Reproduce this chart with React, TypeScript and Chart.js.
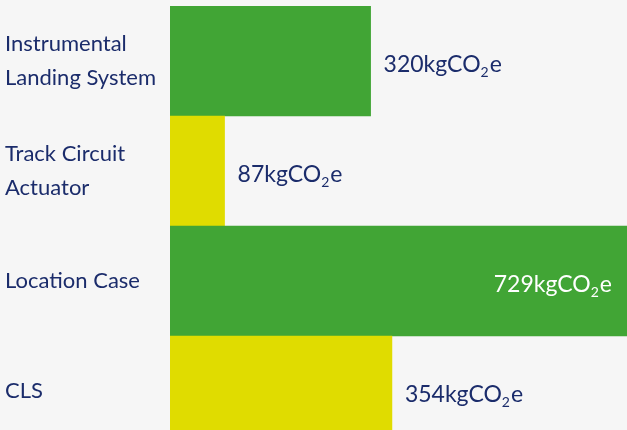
import React, { useEffect, useRef } from "react";
import { Chart, registerables } from "chart.js";

Chart.register(...registerables);

const categories: string[][] = [
  ["Instrumental", "Landing System"],
  ["Track Circuit", "Actuator"],
  ["Location Case"],
  ["CLS"],
];
const values: number[] = [320, 87, 729, 354];
const unitMain = "kgCO";
const unitSub = "2";
const unitTail = "e";

const GREEN = "#41a535";
const YELLOW = "#e0dc00";
const NAVY = "#1b2c6b";
const BG = "#f6f6f6";
const barColors = [GREEN, YELLOW, GREEN, YELLOW];
const FONT = "Lato";

const valueLabels = {
  id: "valueLabels",
  afterDatasetsDraw(chart: any) {
    const ctx = chart.ctx as CanvasRenderingContext2D;
    const meta = chart.getDatasetMeta(0);
    meta.data.forEach((bar: any, i: number) => {
      const v = values[i];
      const main = `${v}${unitMain}`;
      ctx.save();
      ctx.textBaseline = "alphabetic";
      ctx.textAlign = "left";
      const bigFont = `23px ${FONT}`;
      const smallFont = `14px ${FONT}`;
      ctx.font = bigFont;
      const wMain = ctx.measureText(main).width;
      const wTail = ctx.measureText(unitTail).width;
      ctx.font = smallFont;
      const wSub = ctx.measureText(unitSub).width + 1;
      const total = wMain + wSub + wTail;
      const inside = bar.x + 14 + total > chart.chartArea.right;
      let x = inside ? bar.x - 15 - total : bar.x + 13;
      const y = bar.y + 11;
      ctx.fillStyle = inside ? "#ffffff" : NAVY;
      ctx.font = bigFont;
      ctx.fillText(main, x, y);
      x += wMain;
      ctx.font = smallFont;
      ctx.fillText(unitSub, x, y + 5);
      x += wSub;
      ctx.font = bigFont;
      ctx.fillText(unitTail, x, y);
      ctx.restore();
    });
  },
};

export default function App() {
  const ref = useRef<HTMLCanvasElement | null>(null);
  useEffect(() => {
    document.body.style.margin = "0";
    document.body.style.background = BG;
    const chart = new Chart(ref.current as HTMLCanvasElement, {
      type: "bar",
      data: {
        labels: categories,
        datasets: [
          {
            data: values,
            backgroundColor: barColors,
            borderWidth: 0,
            barPercentage: 1,
            categoryPercentage: 1,
          },
        ],
      },
      options: {
        indexAxis: "y",
        animation: false,
        responsive: false,
        maintainAspectRatio: false,
        layout: { padding: { top: 6, left: 5, right: 0, bottom: 0 } },
        plugins: { legend: { display: false }, tooltip: { enabled: false } },
        scales: {
          x: { display: false, min: 0, max: 729 },
          y: {
            grid: { display: false },
            border: { display: false },
            afterFit(axis: any) {
              axis.width = 165;
              axis.paddingTop = 0;
              axis.paddingBottom = 0;
            },
            ticks: {
              crossAlign: "far",
              color: NAVY,
              font: { family: FONT, size: 22, lineHeight: 1.55 },
            },
          },
        },
      },
      plugins: [valueLabels],
    });
    return () => chart.destroy();
  }, []);
  return (
    <div style={{ position: "absolute", left: 0, top: 0, width: 627, height: 446, background: BG }}>
      <canvas ref={ref} width={627} height={446} style={{ display: "block" }} />
    </div>
  );
}
